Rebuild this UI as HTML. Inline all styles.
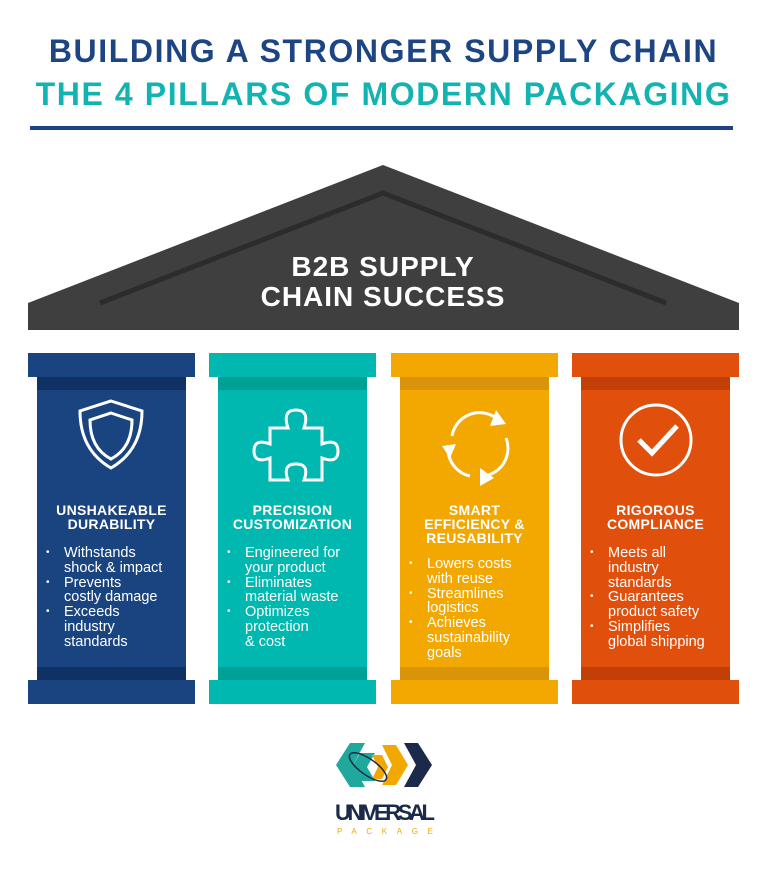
<!DOCTYPE html>
<html><head><style>
body{margin:0;width:767px;height:870px;background:#fff;position:relative;overflow:hidden;font-family:"Liberation Sans",sans-serif}
.t{position:absolute;left:0;width:767px;text-align:center;font-weight:bold;font-size:32px;letter-spacing:1.6px;white-space:nowrap}
.p{position:absolute;top:353px;width:167px;height:350px}
.cap,.base{position:absolute;left:0;width:167px;height:24px}
.cap{top:0}.base{top:327px}
.sh{position:absolute;left:9px;width:149px;top:24px;height:303px}
.band{position:absolute;left:9px;width:149px;height:13px}
.h{position:absolute;top:150px;left:0;width:167px;text-align:center;color:#fff;font-weight:bold;font-size:14px;line-height:14px;letter-spacing:0.3px}
ul{position:absolute;left:14px;width:150px;margin:0;padding:0 0 0 22px;color:#fff;font-size:14.5px;line-height:14.8px;white-space:nowrap;list-style:none}
li{position:relative}
li:before{content:"•";position:absolute;left:-18px;font-size:10px}
svg.i{position:absolute;left:43px;top:45px}
</style></head><body>
<div class="t" style="top:33px;color:#1d4583">BUILDING A STRONGER SUPPLY CHAIN</div>
<div class="t" style="top:76px;color:#12b3b0">THE 4 PILLARS OF MODERN PACKAGING</div>
<div style="position:absolute;left:30px;top:126px;width:703px;height:4px;background:#1d4583"></div>
<svg style="position:absolute;left:0;top:0" width="767" height="340">
<polygon points="383,165 739,303 739,330 28,330 28,303" fill="#3f3f3f"/>
<polyline points="100,303 383,193 666,303" fill="none" stroke="#2c2c2c" stroke-width="5"/>
<text x="383" y="276" text-anchor="middle" fill="#fff" font-size="28" font-weight="bold" letter-spacing="1" font-family="Liberation Sans">B2B SUPPLY</text>
<text x="383" y="306" text-anchor="middle" fill="#fff" font-size="28" font-weight="bold" letter-spacing="1" font-family="Liberation Sans">CHAIN SUCCESS</text>
</svg>

<div class="p" style="left:28px">
<div class="cap" style="background:#1a4480"></div><div class="sh" style="background:#1a4480"></div>
<div class="band" style="top:24px;background:#0f3163"></div><div class="band" style="top:314px;background:#0f3163"></div>
<div class="base" style="background:#1a4480"></div>
<svg class="i" width="80" height="90" viewBox="0 0 80 90"><path d="M40 3 L71 13 Q71 52 40 70 Q9 52 9 13 Z" fill="none" stroke="#fff" stroke-width="3"/><path d="M40 15 L61 22 Q61 50 40 61 Q19 50 19 22 Z" fill="none" stroke="#fff" stroke-width="3"/></svg>
<div class="h">UNSHAKEABLE<br>DURABILITY</div>
<ul style="top:193px"><li>Withstands<br>shock &amp; impact</li><li>Prevents<br>costly damage</li><li>Exceeds<br>industry<br>standards</li></ul>
</div>

<div class="p" style="left:209px">
<div class="cap" style="background:#00b8b0"></div><div class="sh" style="background:#00b8b0"></div>
<div class="band" style="top:24px;background:#00a096"></div><div class="band" style="top:314px;background:#00a096"></div>
<div class="base" style="background:#00b8b0"></div>
<svg class="i" width="90" height="90" viewBox="0 0 90 90"><path d="M18 30 H36 Q30 12 44 12 Q58 12 52 30 H70 V46 Q86 40 86 53 Q86 66 70 60 V82 H52 Q58 66 44 66 Q30 66 36 82 H18 V60 Q2 66 2 53 Q2 40 18 46 Z" fill="none" stroke="#fff" stroke-width="3"/></svg>
<div class="h">PRECISION<br>CUSTOMIZATION</div>
<ul style="top:193px"><li>Engineered for<br>your product</li><li>Eliminates<br>material waste</li><li>Optimizes<br>protection<br>&amp; cost</li></ul>
</div>

<div class="p" style="left:391px">
<div class="cap" style="background:#f2a800"></div><div class="sh" style="background:#f2a800"></div>
<div class="band" style="top:24px;background:#d9940a"></div><div class="band" style="top:314px;background:#d9940a"></div>
<div class="base" style="background:#f2a800"></div>
<svg class="i" width="90" height="90" viewBox="0 0 90 90"><g fill="none" stroke="#fff" stroke-width="3"><path d="M18 38 A28 28 0 0 1 62 20"/><path d="M72 40 A28 28 0 0 1 50 78"/><path d="M36 78 A28 28 0 0 1 14 52"/></g><g fill="#fff"><polygon points="62,12 72,26 56,28"/><polygon points="60,80 46,88 46,70"/><polygon points="8,48 22,46 16,60"/></g></svg>
<div class="h" style="top:150px">SMART<br>EFFICIENCY &amp;<br>REUSABILITY</div>
<ul style="top:204px"><li>Lowers costs<br>with reuse</li><li>Streamlines<br>logistics</li><li>Achieves<br>sustainability<br>goals</li></ul>
</div>

<div class="p" style="left:572px">
<div class="cap" style="background:#e04f0c"></div><div class="sh" style="background:#e04f0c"></div>
<div class="band" style="top:24px;background:#c23f05"></div><div class="band" style="top:314px;background:#c23f05"></div>
<div class="base" style="background:#e04f0c"></div>
<svg class="i" width="90" height="90" viewBox="0 0 90 90"><circle cx="41" cy="42" r="35" fill="none" stroke="#fff" stroke-width="3"/><polyline points="24,42 37,55 62,28" fill="none" stroke="#fff" stroke-width="5"/></svg>
<div class="h">RIGOROUS<br>COMPLIANCE</div>
<ul style="top:193px"><li>Meets all<br>industry<br>standards</li><li>Guarantees<br>product safety</li><li>Simplifies<br>global shipping</li></ul>
</div>

<svg style="position:absolute;left:320px;top:735px" width="130" height="100">
<polygon points="30,8 45,8 33,30 45,52 30,52 16,30" fill="#1fa89c"/>
<polygon points="40,18 55,18 47,32 55,46 40,46 32,32" fill="#1fa89c"/>
<polygon points="62,10 76,10 88,30 76,50 62,50 72,30" fill="#f2a800"/>
<polygon points="52,20 62,20 68,32 62,44 52,44 58,32" fill="#f2a800"/>
<polygon points="84,8 98,8 112,30 98,52 84,52 96,30" fill="#1b2a4a"/>
<ellipse cx="48" cy="32" rx="22" ry="8" transform="rotate(35 48 32)" fill="none" stroke="#1b2a4a" stroke-width="1.5"/>
<text x="65" y="85" text-anchor="middle" font-family="Liberation Sans" font-weight="bold" font-size="22" fill="#1b2a4a" textLength="100">UNIVERSAL</text>
<text x="65" y="99" text-anchor="middle" font-family="Liberation Sans" font-size="8" fill="#f2a800" textLength="96">PACKAGE</text>
</svg>
</body></html>
